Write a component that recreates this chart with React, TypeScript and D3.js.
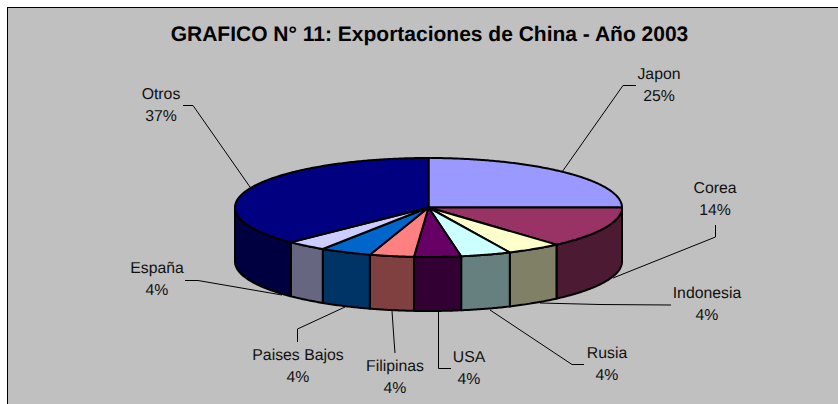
import React from "react";
import * as d3 from "d3";

const categories = ["Japon", "Corea", "Indonesia", "Rusia", "USA", "Filipinas", "Paises Bajos", "España", "Otros"];
const values = [25, 13.5, 4.6, 4.2, 3.9, 3.7, 4.3, 3.4, 37.4];
const percentLabels = ["25%", "14%", "4%", "4%", "4%", "4%", "4%", "4%", "37%"];
const topColors = ["#9999FF", "#993366", "#FFFFCC", "#CCFFFF", "#660066", "#FF8080", "#0066CC", "#CCCCFF", "#000080"];
const sideColors = ["#4D4D80", "#4D1A33", "#808066", "#668080", "#330033", "#804040", "#003366", "#666680", "#000040"];
const titleText = "GRAFICO N° 11: Exportaciones de China - Año 2003";

const W = 838, H = 404;
const cx = 428.5, cy = 207.5, rx = 193.5, ry = 49.5, depth = 54;
const LABEL_FONT = 15.8;

// Layout: label centre and first baseline, then the leader polyline, per category.
const labelLayout: [number, number][] = [
  [659, 79], [715, 193], [707, 298], [607, 358], [469, 362], [395, 371], [298, 360], [157, 273], [161, 99],
];
const leaderLayout: [number, number][][] = [
  [[636, 85.5], [623, 85.5], [562, 172]],
  [[715.5, 225], [715.5, 237], [613, 278]],
  [[671, 305], [600, 304.5], [540, 303]],
  [[584, 364.5], [572, 364.5], [490, 310]],
  [[451, 368.5], [438.5, 368.5], [438.5, 312]],
  [[395, 353], [394, 340], [392, 311]],
  [[297.5, 342], [297.5, 329], [345, 307]],
  [[185, 280.5], [198, 280.5], [282, 295]],
  [[183, 105.5], [193, 105.5], [250, 187]],
];

const sx = d3.scaleLinear().domain([-1, 1]).range([cx - rx, cx + rx]);
const sy = d3.scaleLinear().domain([-1, 1]).range([cy - ry, cy + ry]);
const pt = (a: number): [number, number] => [sx(Math.sin(a)), sy(-Math.cos(a))];
const line = d3.line();
const sample = (a0: number, a1: number) => {
  const n = Math.max(2, Math.ceil(Math.abs(a1 - a0) / 0.01));
  return d3.range(n + 1).map((i) => pt(a0 + ((a1 - a0) * i) / n));
};

export default function App() {
  const arcs = d3.pie<number>().sort(null).value((d) => d)(values);
  const front0 = Math.PI / 2, front1 = (3 * Math.PI) / 2;
  return (
    <svg
      width={W}
      height={H}
      viewBox={`0 0 ${W} ${H}`}
      style={{ position: "absolute", left: 0, top: 0, display: "block" }}
      fontFamily="'Liberation Sans', Arial, sans-serif"
      textRendering="geometricPrecision"
    >
      <rect x={0} y={0} width={W} height={H} fill="#fff" />
      <rect x={7.5} y={7.5} width={W} height={H} fill="#C0C0C0" stroke="#000" strokeWidth={1} />
      <text x={429.5} y={40.5} textAnchor="middle" fontSize={21} fontWeight="bold" fill="#000">{titleText}</text>

      {leaderLayout.map((l, i) => (
        <path key={i} d={line(l) as string} fill="none" stroke="#000" strokeWidth={1} />
      ))}

      {arcs.map((a, i) => {
        const a0 = Math.max(a.startAngle, front0), a1 = Math.min(a.endAngle, front1);
        if (a1 <= a0) return null;
        const upper = sample(a0, a1);
        const lower = upper.map(([x, y]) => [x, y + depth] as [number, number]).reverse();
        return (
          <path key={i} d={(line([...upper, ...lower]) as string) + "Z"} fill={sideColors[i]} stroke="#000" strokeWidth={2} strokeLinejoin="round" />
        );
      })}
      {arcs.map((a, i) => (
        <path key={i} d={(line([[cx, cy], ...sample(a.startAngle, a.endAngle)]) as string) + "Z"} fill={topColors[i]} stroke="#000" strokeWidth={2} strokeLinejoin="round" />
      ))}

      {categories.map((c, i) => (
        <text key={c} textAnchor="middle" fontSize={LABEL_FONT} fill="#111">
          <tspan x={labelLayout[i][0]} y={labelLayout[i][1]}>{c}</tspan>
          <tspan x={labelLayout[i][0]} y={labelLayout[i][1] + 22}>{percentLabels[i]}</tspan>
        </text>
      ))}
    </svg>
  );
}
